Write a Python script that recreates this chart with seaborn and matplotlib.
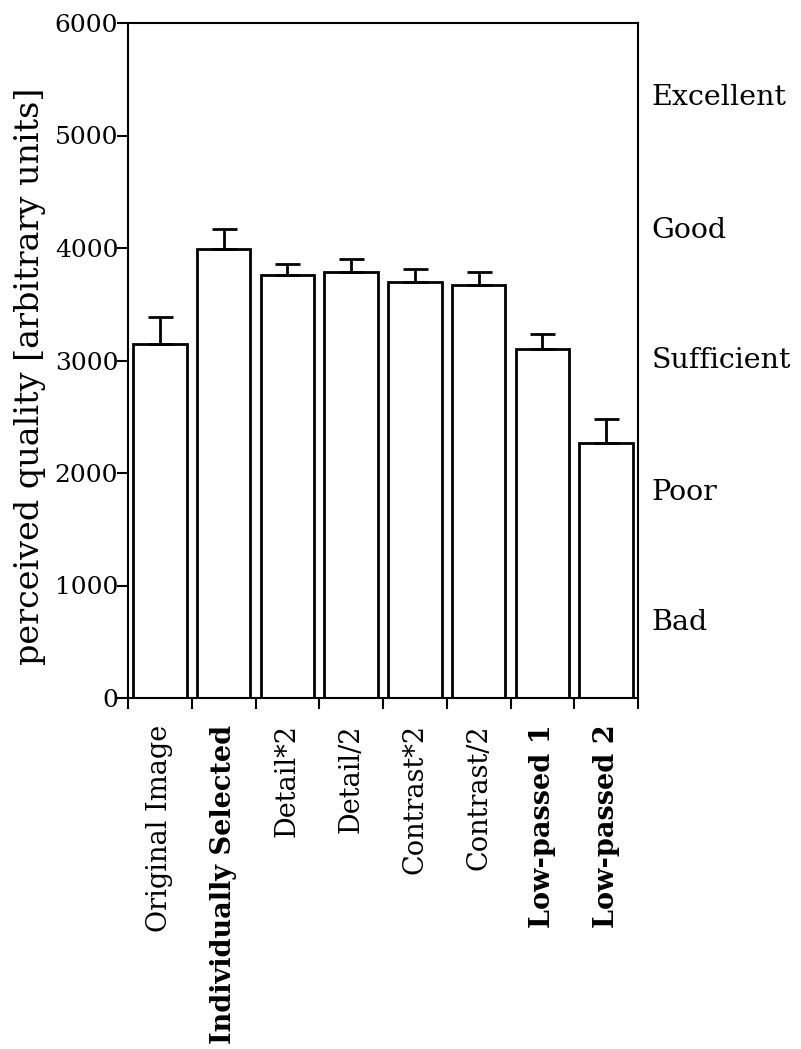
import matplotlib
matplotlib.use("Agg")
import matplotlib.pyplot as plt
import matplotlib.transforms as mtransforms
import seaborn as sns
import pandas as pd
import numpy as np

categories = ["Original Image", "Individually Selected", "Detail*2", "Detail/2",
              "Contrast*2", "Contrast/2", "Low-passed 1", "Low-passed 2"]
bold_labels = ["Individually Selected", "Low-passed 1", "Low-passed 2"]
values = [3145, 3995, 3760, 3785, 3700, 3670, 3100, 2270]
errors = [245, 170, 98, 118, 115, 115, 136, 210]
yticks = [0, 1000, 2000, 3000, 4000, 5000, 6000]
rating_labels = ["Excellent", "Good", "Sufficient", "Poor", "Bad"]
rating_levels = [5340, 4160, 3000, 1830, 670]

sns.set_theme(style="white")
plt.rcParams['font.family'] = ['DejaVu Serif']
plt.rcParams['text.color'] = 'black'
plt.rcParams['axes.labelcolor'] = 'black'
plt.rcParams['xtick.color'] = 'black'
plt.rcParams['ytick.color'] = 'black'

fig = plt.figure(figsize=(8.01, 10.49), dpi=100)
ax = fig.add_axes([128/801, 1-698/1049, 510/801, 675/1049])

df = pd.DataFrame({"cat": categories, "val": values})
sns.barplot(data=df, x="cat", y="val", ax=ax, color="white", edgecolor="black",
            linewidth=2, width=0.84, errorbar=None, saturation=1)

xs = np.arange(len(categories))
ax.errorbar(xs, values, yerr=[np.zeros(len(errors)), errors], fmt="none",
            ecolor="black", elinewidth=2, capsize=9, capthick=2, zorder=3)

ax.set_xlim(-0.5, len(categories) - 0.5)
ax.set_ylim(0, 6000)
ax.set_yticks(yticks)
ax.set_yticklabels([str(t) for t in yticks], fontsize=18)
ax.tick_params(axis="y", direction="out", length=8, width=1.5, pad=-1, left=True)

ax.set_xticks(xs)
ax.set_xticks(np.arange(-0.5, len(categories)), minor=True)
ax.set_xticklabels(categories, rotation=90, fontsize=19.5, va="top", ha="center")
for lbl in ax.get_xticklabels():
    if lbl.get_text() in bold_labels:
        lbl.set_fontweight("bold")
ax.tick_params(axis="x", which="major", length=0, pad=19, bottom=True)
ax.tick_params(axis="x", which="minor", direction="out", length=8, width=1.5, bottom=True)

ax.set_xlabel("")
ax.set_ylabel("perceived quality [arbitrary units]", fontsize=24)
ax.yaxis.set_label_coords(-0.16, 0.477)

for sp in ax.spines.values():
    sp.set_visible(True)
    sp.set_color("black")
    sp.set_linewidth(1.5)

trans = mtransforms.blended_transform_factory(ax.transAxes, ax.transData)
for lab, lev in zip(rating_labels, rating_levels):
    ax.text(1.027, lev, lab, transform=trans, fontsize=20.5, ha="left", va="center",
            color="black")

fig.savefig("out.png", dpi=100, facecolor="white")
